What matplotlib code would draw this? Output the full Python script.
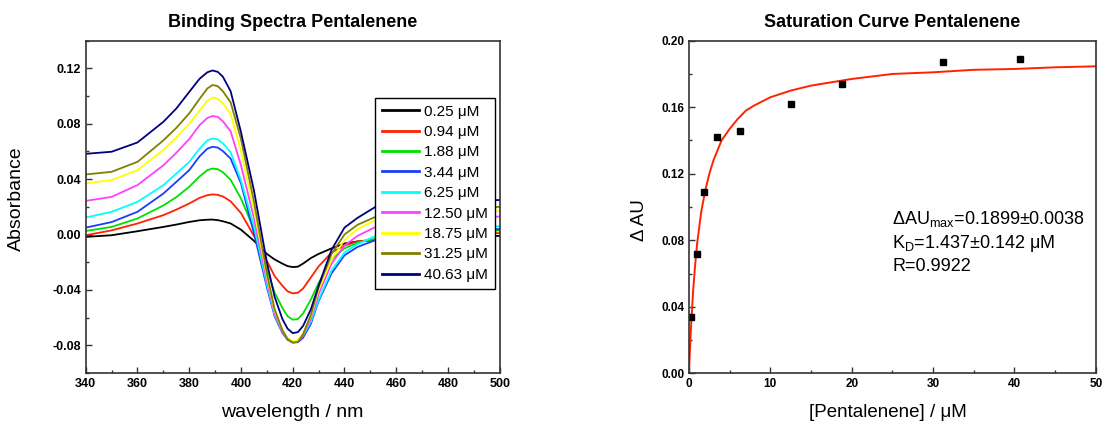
import numpy as np
import matplotlib
matplotlib.use('Agg')
import matplotlib.pyplot as plt
from matplotlib.ticker import MultipleLocator, FormatStrFormatter

plt.rcParams['font.family'] = ['Liberation Sans', 'DejaVu Sans']
plt.rcParams['mathtext.fontset'] = 'custom'
plt.rcParams['mathtext.rm'] = 'Liberation Sans'
plt.rcParams['mathtext.it'] = 'Liberation Sans'

# binding spectra
wl = [340, 350, 360, 370, 375, 380, 384, 387, 389, 391, 393, 396, 400, 405, 410, 413,
      416, 418, 420, 422, 424, 427, 430, 435, 440, 445, 452, 460, 470, 480, 490, 500]

a_025 = [-0.0017, -0.0005, 0.0024, 0.0055, 0.0072, 0.0091, 0.0103, 0.0107, 0.0108, 0.0104,
         0.0096, 0.0080, 0.0035, -0.0045, -0.0140, -0.018, -0.021, -0.0228, -0.0235, -0.0232,
         -0.021, -0.017, -0.014, -0.010, -0.0065, -0.005, -0.004, -0.003, -0.002, -0.0015,
         -0.0012, -0.001]
a_094 = [-0.0005, 0.003, 0.008, 0.014, 0.018, 0.0224, 0.0265, 0.0284, 0.029, 0.0287,
         0.0275, 0.0240, 0.0155, -0.001, -0.019, -0.030, -0.037, -0.041, -0.0425, -0.042,
         -0.039, -0.031, -0.023, -0.013, -0.008, -0.005, -0.0035, -0.002, -0.001, 0.000,
         0.001, 0.001]
a_188 = [0.0026, 0.0055, 0.0116, 0.021, 0.027, 0.0345, 0.042, 0.0465, 0.0477, 0.0472,
         0.0450, 0.0395, 0.026, 0.004, -0.025, -0.042, -0.053, -0.059, -0.0615, -0.061,
         -0.057, -0.047, -0.035, -0.018, -0.010, -0.006, -0.003, -0.001, 0.000, 0.001,
         0.002, 0.003]
a_344 = [0.005, 0.009, 0.0164, 0.0296, 0.038, 0.0465, 0.0565, 0.0620, 0.0634, 0.0628,
         0.0603, 0.0548, 0.037, 0.001, -0.038, -0.059, -0.071, -0.076, -0.078, -0.0778,
         -0.0745, -0.0645, -0.048, -0.028, -0.015, -0.009, -0.004, -0.002, 0.000, 0.002,
         0.003, 0.004]
a_625 = [0.0123, 0.0164, 0.0236, 0.0356, 0.044, 0.0525, 0.062, 0.0680, 0.0694, 0.0688,
         0.0658, 0.0595, 0.039, 0.006, -0.036, -0.058, -0.070, -0.075, -0.077, -0.0768,
         -0.073, -0.063, -0.047, -0.026, -0.013, -0.007, -0.001, 0.001, 0.003, 0.004,
         0.005, 0.006]
a_1250 = [0.0243, 0.0272, 0.0357, 0.050, 0.059, 0.069, 0.079, 0.0842, 0.0856, 0.0850,
          0.0818, 0.0745, 0.050, 0.012, -0.033, -0.057, -0.070, -0.0755, -0.078, -0.0775,
          -0.0725, -0.061, -0.043, -0.021, -0.008, -0.001, 0.0055, 0.008, 0.010, 0.011,
          0.012, 0.013]
a_1875 = [0.0369, 0.0393, 0.0465, 0.061, 0.070, 0.080, 0.0895, 0.0965, 0.099, 0.0982,
          0.0948, 0.0872, 0.060, 0.018, -0.030, -0.055, -0.069, -0.075, -0.077, -0.0765,
          -0.0715, -0.059, -0.040, -0.018, -0.004, 0.004, 0.0103, 0.013, 0.015, 0.016,
          0.017, 0.017]
a_3125 = [0.0434, 0.0453, 0.0525, 0.068, 0.077, 0.0875, 0.098, 0.1055, 0.108, 0.1072,
          0.1035, 0.0955, 0.069, 0.024, -0.028, -0.054, -0.069, -0.0755, -0.078, -0.0775,
          -0.072, -0.058, -0.038, -0.014, 0.000, 0.007, 0.0128, 0.015, 0.017, 0.018,
          0.019, 0.020]
a_4063 = [0.0583, 0.0598, 0.0665, 0.0814, 0.091, 0.103, 0.1125, 0.1172, 0.1185, 0.1175,
          0.1140, 0.1035, 0.074, 0.032, -0.020, -0.045, -0.061, -0.068, -0.0712, -0.0705,
          -0.066, -0.054, -0.037, -0.011, 0.005, 0.012, 0.020, 0.022, 0.023, 0.024,
          0.024, 0.025]

spectra = [a_025, a_094, a_188, a_344, a_625, a_1250, a_1875, a_3125, a_4063]
labels = ['0.25 μM', '0.94 μM', '1.88 μM', '3.44 μM', '6.25 μM',
          '12.50 μM', '18.75 μM', '31.25 μM', '40.63 μM']
colors = ['#000000', '#ff2200', '#00e000', '#1a3cff', '#00ffff',
          '#ff40ff', '#ffff00', '#808000', '#000080']

# saturation curve
conc = [0.25, 0.94, 1.88, 3.44, 6.25, 12.50, 18.75, 31.25, 40.63]
dAU = [0.034, 0.072, 0.109, 0.142, 0.146, 0.162, 0.174, 0.187, 0.189]
fit_x = [0, 0.1, 0.25, 0.5, 0.75, 1, 1.5, 2, 2.5, 3, 4, 5, 6, 7, 8, 10, 12.5,
         15, 20, 25, 30, 35, 40, 45, 50]
fit_y = [0, 0.012, 0.028, 0.049, 0.065, 0.078, 0.097, 0.110, 0.120, 0.128, 0.140,
         0.147, 0.153, 0.158, 0.161, 0.166, 0.170, 0.173, 0.177, 0.180, 0.181,
         0.1825, 0.183, 0.184, 0.1846]

fig = plt.figure(figsize=(11.12, 4.24), dpi=100)
ax1 = fig.add_axes([0.0771, 0.1203, 0.3723, 0.7837])
ax2 = fig.add_axes([0.6196, 0.1195, 0.3658, 0.7845])


def style(ax, size):
    for s in ax.spines.values():
        s.set_linewidth(1.2)
        s.set_color('#333333')
    ax.tick_params(which='both', direction='in', top=False, right=False,
                   labelsize=size, width=1, color='#333333')
    ax.tick_params(which='major', length=4)
    ax.tick_params(which='minor', length=2.5)
    for lab in ax.get_xticklabels() + ax.get_yticklabels():
        lab.set_fontweight('bold')


for y, lab, c in zip(spectra, labels, colors):
    ax1.plot(wl, y, color=c, lw=1.3, label=lab)
ax1.set_xlim(340, 500)
ax1.set_ylim(-0.10, 0.14)
ax1.xaxis.set_major_locator(MultipleLocator(20))
ax1.xaxis.set_minor_locator(MultipleLocator(10))
ax1.yaxis.set_major_locator(MultipleLocator(0.04))
ax1.yaxis.set_minor_locator(MultipleLocator(0.02))
ax1.yaxis.set_major_formatter(FormatStrFormatter('%.2f'))
style(ax1, 9)
ax1.set_title('Binding Spectra Pentalenene', fontsize=13, fontweight='bold', pad=10)
ax1.set_xlabel('wavelength / nm', fontsize=14)
ax1.set_ylabel('Absorbance', fontsize=14)
ax1.xaxis.set_label_coords(0.4995, -0.092)
ax1.yaxis.set_label_coords(-0.148, 0.524)
leg = ax1.legend(loc='upper left', bbox_to_anchor=(0.699, 0.8285), borderaxespad=0,
                 fontsize=11, fancybox=False, framealpha=1, edgecolor='black',
                 handlelength=2.4, handletextpad=0.35, labelspacing=0.42,
                 borderpad=0.45)
leg.get_frame().set_linewidth(1.0)
for h in leg.get_lines():
    h.set_linewidth(2)

ax2.plot(fit_x, fit_y, color='#ff2200', lw=1.4)
ax2.plot(conc, dAU, 's', color='black', ms=5)
ax2.set_xlim(0, 50)
ax2.set_ylim(0, 0.20)
ax2.xaxis.set_major_locator(MultipleLocator(10))
ax2.xaxis.set_minor_locator(MultipleLocator(5))
ax2.yaxis.set_major_locator(MultipleLocator(0.04))
ax2.yaxis.set_minor_locator(MultipleLocator(0.02))
ax2.yaxis.set_major_formatter(FormatStrFormatter('%.2f'))
style(ax2, 8.5)
ax2.set_title('Saturation Curve Pentalenene', fontsize=13, fontweight='bold', pad=10)
ax2.set_xlabel('[Pentalenene] / μM', fontsize=13.5)
ax2.set_ylabel('Δ AU', fontsize=13.5)
ax2.xaxis.set_label_coords(0.49, -0.092)
ax2.yaxis.set_label_coords(-0.10, 0.461)
ax2.text(0.50, 0.465, '$\\Delta$AU$_{\\mathrm{max}}$=0.1899±0.0038', transform=ax2.transAxes,
         fontsize=13, va='center')
ax2.text(0.50, 0.39, 'K$_{\\mathrm{D}}$=1.437±0.142 μM', transform=ax2.transAxes,
         fontsize=13, va='center')
ax2.text(0.50, 0.32, 'R=0.9922', transform=ax2.transAxes, fontsize=13, va='center')

fig.savefig('out.png', dpi=100)
